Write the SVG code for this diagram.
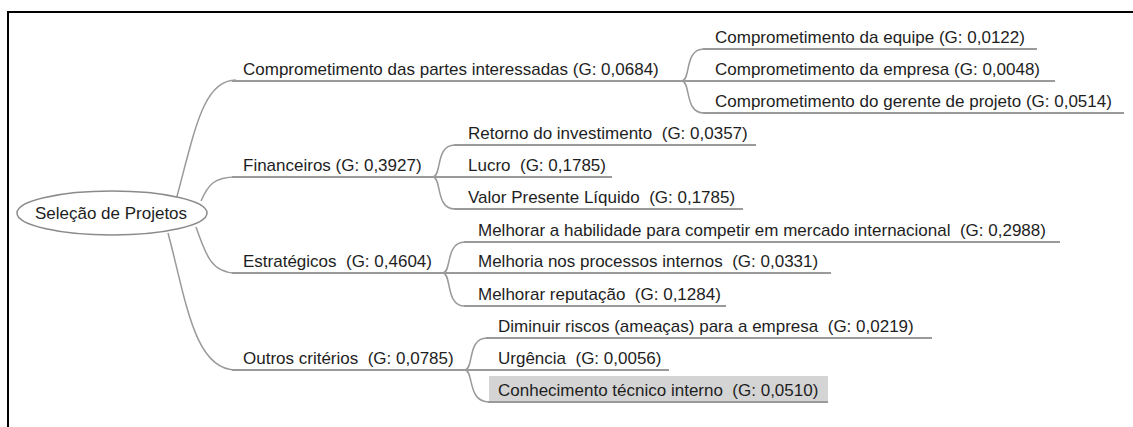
<svg xmlns="http://www.w3.org/2000/svg" width="1133" height="427" viewBox="0 0 1133 427">
<style>
text{font-family:"Liberation Sans",Arial,sans-serif;font-size:17px;fill:#1e1e1e;white-space:pre}
.c{fill:none;stroke:#9a9a9a;stroke-width:1.5}
.u{fill:none;stroke:#9a9a9a;stroke-width:2}
</style>
<rect width="1133" height="427" fill="#fff"/>
<path d="M8,427 V12 H1133" fill="none" stroke="#000" stroke-width="2"/>
<g id="connectors">
<path class="c" d="M176,200 C195,130 203,80 236,80"/>
<path class="c" d="M201,201 C208,185 214,177 236,177"/>
<path class="c" d="M196,227 C206,256 212,273 236,273"/>
<path class="c" d="M168,233 C186,300 194,370 236,370"/>
<path class="c" d="M682,81 C691,80 684,49 704,49"/>
<path class="c" d="M682,81 C691,82 684,113 704,113"/>
<path class="c" d="M433,177 C442,176 435,145 455,145"/>
<path class="c" d="M433,177 C442,178 435,209 455,209"/>
<path class="c" d="M443,273 C452,272 445,242 465,242"/>
<path class="c" d="M443,273 C452,274 445,306 465,306"/>
<path class="c" d="M465,370 C474,369 467,338 487,338"/>
<path class="c" d="M465,370 C474,371 467,402 489,402"/>
</g>
<g id="root">
<ellipse cx="112" cy="213" rx="95" ry="22" fill="#fff" stroke="#8a8a8a" stroke-width="1.5"/>
<text x="111" y="219" text-anchor="middle">Seleção de Projetos</text>
</g>
<g id="b1">
<path class="u" d="M232,81 H682"/>
<text x="243" y="75">Comprometimento das partes interessadas (G: 0,0684)</text>
</g>
<g id="b1c1"><path class="u" d="M703,49 H1037"/><text x="715" y="43">Comprometimento da equipe (G: 0,0122)</text></g>
<g id="b1c2"><path class="u" d="M682,81 H1055"/><text x="715" y="75">Comprometimento da empresa (G: 0,0048)</text></g>
<g id="b1c3"><path class="u" d="M703,113 H1124"/><text x="715" y="107">Comprometimento do gerente de projeto (G: 0,0514)</text></g>
<g id="b2">
<path class="u" d="M232,177 H433"/>
<text x="243" y="171">Financeiros (G: 0,3927)</text>
</g>
<g id="b2c1"><path class="u" d="M454,145 H756"/><text x="468" y="139">Retorno do investimento  (G: 0,0357)</text></g>
<g id="b2c2"><path class="u" d="M433,177 H612"/><text x="468" y="171">Lucro  (G: 0,1785)</text></g>
<g id="b2c3"><path class="u" d="M454,209 H743"/><text x="468" y="203">Valor Presente Líquido  (G: 0,1785)</text></g>
<g id="b3">
<path class="u" d="M232,273 H443"/>
<text x="243" y="267">Estratégicos  (G: 0,4604)</text>
</g>
<g id="b3c1"><path class="u" d="M464,242 H1060"/><text x="478" y="236">Melhorar a habilidade para competir em mercado internacional  (G: 0,2988)</text></g>
<g id="b3c2"><path class="u" d="M443,273 H831"/><text x="478" y="267">Melhoria nos processos internos  (G: 0,0331)</text></g>
<g id="b3c3"><path class="u" d="M464,306 H726"/><text x="478" y="300">Melhorar reputação  (G: 0,1284)</text></g>
<g id="b4">
<path class="u" d="M232,370 H465"/>
<text x="243" y="364">Outros critérios  (G: 0,0785)</text>
</g>
<g id="b4c1"><path class="u" d="M486,338 H932"/><text x="498" y="332">Diminuir riscos (ameaças) para a empresa  (G: 0,0219)</text></g>
<g id="b4c2"><path class="u" d="M465,370 H669"/><text x="498" y="364">Urgência  (G: 0,0056)</text></g>
<g id="b4c3"><rect x="489" y="376" width="339" height="26" fill="#d4d4d4"/><path class="u" d="M488,402 H828"/><text x="498" y="396">Conhecimento técnico interno  (G: 0,0510)</text></g>
</svg>
